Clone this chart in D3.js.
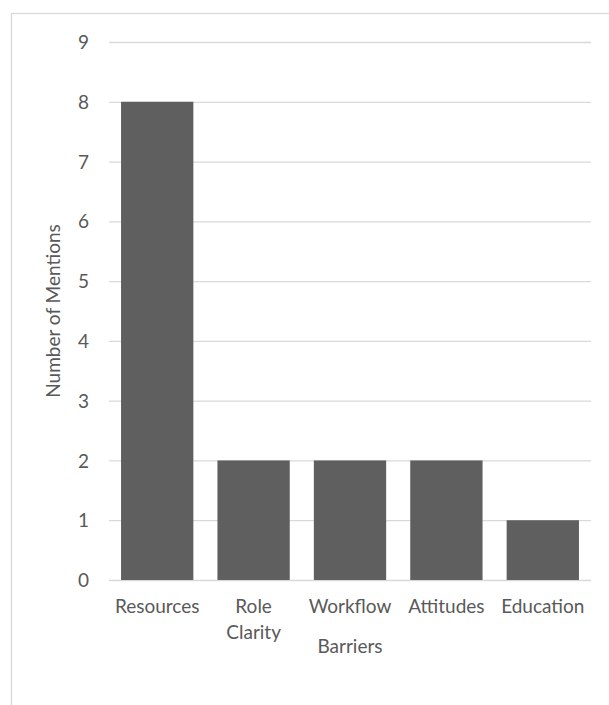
<!DOCTYPE html>
<html>
<head>
<meta charset="utf-8">
<script src="https://cdn.jsdelivr.net/npm/d3@7"></script>
<style>
  body { margin: 0; background: #fff; }
  svg text { font-family: Lato, "Open Sans", sans-serif; fill: #595959; }
</style>
</head>
<body>
<svg id="chart" width="609" height="705"></svg>
<script>
var barriers = ['Resources', 'Role Clarity', 'Workflow', 'Attitudes', 'Education'];
var mentions = [8, 2, 2, 2, 1];
var yTicks = [0, 1, 2, 3, 4, 5, 6, 7, 8, 9];

var
  margin = {top: 42, right: 18, bottom: 125, left: 109},
  W = 609,
  H = 705,
  width = W - margin.left - margin.right,
  height = H - margin.top - margin.bottom,
  svg = d3.select('#chart'),
  data = barriers.map((b, i) => ({name: b, value: mentions[i]}))
  ;

var xScale = d3.scaleBand()
  .domain(barriers)
  .range([0, width])
  .paddingInner(0.25)
  .paddingOuter(0.125);

var yScale = d3.scaleLinear()
  .domain([0, 9])
  .range([height, 0]);

// chart area frame (only top and left edges fall inside the picture)
svg.append('rect')
  .attr('x', 11.5)
  .attr('y', 13.5)
  .attr('width', 800)
  .attr('height', 900)
  .attr('fill', 'none')
  .attr('stroke', '#d9d9d9')
  .attr('stroke-width', 1.3);

var g = svg.append('g')
  .attr('transform', 'translate(' + margin.left + ',' + margin.top + ')');

// gridlines + y tick labels
var yAxis = g.append('g')
  .attr('class', 'axis axis--y')
  .call(d3.axisLeft(yScale).tickValues(yTicks).tickSize(-width).tickPadding(20).tickFormat(d3.format('d')));
yAxis.select('.domain').remove();
yAxis.selectAll('.tick line').attr('stroke', '#d9d9d9').attr('stroke-width', 1.3);
yAxis.selectAll('.tick text').style('font-size', '19px').attr('dy', '0.35em');

g.selectAll('.bar')
  .data(data)
  .enter().append('rect')
  .attr('class', 'bar')
  .attr('x', d => xScale(d.name))
  .attr('y', d => yScale(d.value))
  .attr('width', xScale.bandwidth())
  .attr('height', d => height - yScale(d.value))
  .attr('fill', '#5f5f5f');

// x labels, "Role Clarity" wraps onto two lines like the original
var xAxis = g.append('g')
  .attr('class', 'axis axis--x')
  .attr('transform', 'translate(0,' + height + ')')
  .call(d3.axisBottom(xScale).tickSize(0).tickPadding(0));
xAxis.select('.domain').remove();
xAxis.selectAll('.tick text')
  .style('font-size', '19px')
  .text(null)
  .each(function(d) {
    var lines = d === 'Role Clarity' ? d.split(' ') : [d];
    var t = d3.select(this).attr('y', 0).attr('dy', null);
    lines.forEach((w, i) => {
      t.append('tspan')
        .attr('x', 0)
        .attr('y', 33 + i * 26)
        .text(w);
    });
  });

svg.append('text')
  .attr('x', margin.left + width / 2)
  .attr('y', 653)
  .attr('text-anchor', 'middle')
  .style('font-size', '19px')
  .text('Barriers');

svg.append('text')
  .attr('transform', 'translate(60,' + (margin.top + height / 2) + ') rotate(-90)')
  .attr('text-anchor', 'middle')
  .style('font-size', '19px')
  .text('Number of Mentions');
</script>
</body>
</html>
